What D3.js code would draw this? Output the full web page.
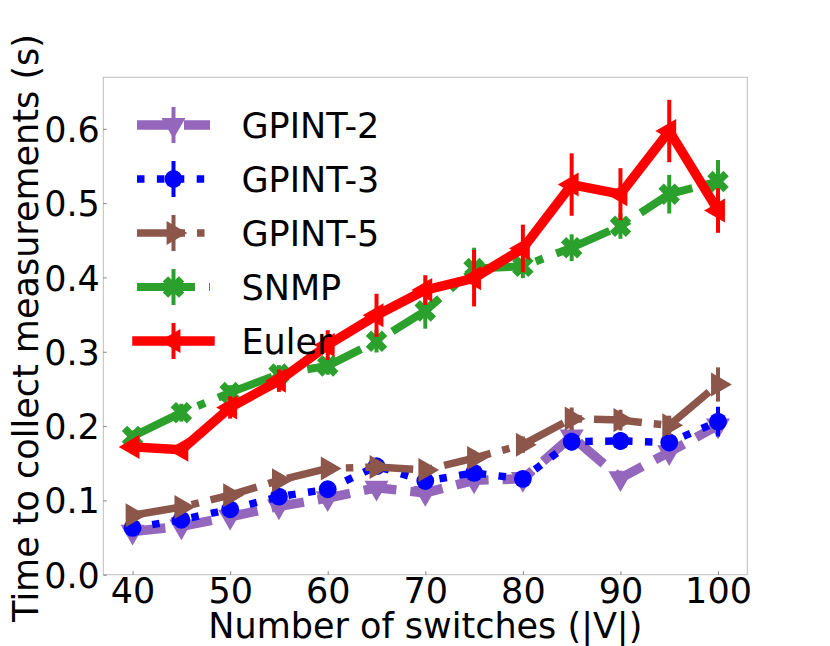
<!DOCTYPE html>
<html>
<head>
<meta charset="utf-8">
<script src="https://cdn.jsdelivr.net/npm/d3@7/dist/d3.min.js"></script>
<style>
  body { margin: 0; background: #fff; }
  text { font-family: "DejaVu Sans", sans-serif; fill: #000; }
</style>
</head>
<body>
<script>
// number of switches on the x axis
var switches = [40, 45, 50, 55, 60, 65, 70, 75, 80, 85, 90, 95, 100];

// time to collect measurements (s), mean and error per method
var gpint2    = [0.058, 0.065, 0.078, 0.092, 0.103, 0.117, 0.110, 0.127, 0.129, 0.186, 0.130, 0.165, 0.201];
var gpint2Err = [0.006, 0.006, 0.007, 0.008, 0.008, 0.009, 0.008, 0.009, 0.008, 0.012, 0.010, 0.012, 0.014];
var gpint3    = [0.063, 0.074, 0.088, 0.105, 0.115, 0.146, 0.126, 0.137, 0.129, 0.179, 0.180, 0.178, 0.206];
var gpint3Err = [0.005, 0.006, 0.006, 0.008, 0.008, 0.009, 0.008, 0.009, 0.008, 0.012, 0.012, 0.012, 0.020];
var gpint5    = [0.080, 0.091, 0.107, 0.127, 0.143, 0.145, 0.141, 0.157, 0.175, 0.210, 0.208, 0.201, 0.256];
var gpint5Err = [0.007, 0.007, 0.008, 0.009, 0.009, 0.009, 0.009, 0.010, 0.011, 0.015, 0.014, 0.013, 0.023];
var snmp      = [0.186, 0.218, 0.245, 0.270, 0.281, 0.314, 0.355, 0.412, 0.415, 0.440, 0.469, 0.512, 0.529];
var snmpErr   = [0.008, 0.012, 0.010, 0.012, 0.012, 0.015, 0.024, 0.028, 0.016, 0.018, 0.017, 0.026, 0.029];
var euler     = [0.172, 0.168, 0.225, 0.261, 0.309, 0.349, 0.383, 0.399, 0.439, 0.525, 0.512, 0.597, 0.490];
var eulerErr  = [0.009, 0.009, 0.015, 0.015, 0.020, 0.029, 0.020, 0.038, 0.032, 0.042, 0.035, 0.042, 0.030];

var seriesNames = ["GPINT-2", "GPINT-3", "GPINT-5", "SNMP", "Euler"];

var xTicks = [40, 50, 60, 70, 80, 90, 100];
var yTicks = [0, 0.1, 0.2, 0.3, 0.4, 0.5, 0.6];

// styles for each series (matplotlib-ish)
var styles = [
  {color: "#9467bd", lw: 9.5, dash: "33,14",        marker: "v", cap: "butt"},
  {color: "#0000ff", lw: 7.5, dash: "7.5,12.4",     marker: "o", cap: "butt"},
  {color: "#8c564b", lw: 7.5, dash: "48,12,7.5,12", marker: ">", cap: "butt"},
  {color: "#2ca02c", lw: 8,   dash: "58,14,8,14",   marker: "X", cap: "butt"},
  {color: "#ff0000", lw: 9.5, dash: null,           marker: "<", cap: "square"}
];

var means = [gpint2, gpint3, gpint5, snmp, euler];
var errs = [gpint2Err, gpint3Err, gpint5Err, snmpErr, eulerErr];

var data = seriesNames.map(function(name, i) {
  return {
    name: name,
    style: styles[i],
    points: switches.map(function(x, j) { return {x: x, y: means[i][j], e: errs[i][j]}; })
  };
});

// set the dimensions and margins of the diagram
var margin = {top: 77.3, left: 103.3},
    width = 644,
    height = 497.4;

var svg = d3.select("body").append("svg")
    .attr("width", 830)
    .attr("height", 646),
  g = svg.append("g")
    .attr("transform", "translate(" + margin.left + "," + margin.top + ")");

var x = d3.scaleLinear().domain([37, 103]).range([0, width]);
var y = d3.scaleLinear().domain([0, 0.6693]).range([height, 0]);

// frame
g.append("rect")
  .attr("width", width)
  .attr("height", height)
  .attr("fill", "none")
  .attr("stroke", "#bdbdbd")
  .attr("stroke-width", 1);

// axes
var xAxis = g.append("g")
  .attr("transform", "translate(0," + height + ")")
  .call(d3.axisBottom(x).tickValues(xTicks).tickSizeInner(-3.5).tickSizeOuter(0).tickPadding(6));
var yAxis = g.append("g")
  .call(d3.axisLeft(y).tickValues(yTicks).tickFormat(d3.format(".1f")).tickSizeInner(-3.5).tickSizeOuter(0).tickPadding(6));

[xAxis, yAxis].forEach(function(ax) {
  ax.select(".domain").remove();
  ax.selectAll(".tick line").attr("stroke", "#666").attr("stroke-width", 0.8);
  ax.selectAll(".tick text")
    .style("font-family", "DejaVu Sans")
    .style("font-size", "35px")
    .attr("fill", "#000");
});
xAxis.selectAll(".tick text").attr("y", 0).attr("dy", 0)
  .attr("transform", "translate(0,28.5)");
yAxis.selectAll(".tick text").attr("x", -3.5).attr("dy", "0.36em");

// axis labels
svg.append("text")
  .attr("x", margin.left + width / 2)
  .attr("y", 637.5)
  .attr("text-anchor", "middle")
  .style("font-size", "35px")
  .text("Number of switches (|V|)");

svg.append("text")
  .attr("transform", "translate(37.5," + (margin.top + height / 2 + 2) + ") rotate(-90)")
  .attr("text-anchor", "middle")
  .style("font-size", "35px")
  .text("Time to collect measurements (s)");

// marker shapes
function markerPath(m) {
  if (m === "o") return d3.symbol().type(d3.symbolCircle).size(250)();
  if (m === "X") return d3.symbol().type(d3.symbolCross).size(290)();
  return d3.symbol().type(d3.symbolTriangle).size(250)();
}
function markerRotate(m) {
  if (m === "v") return 180;
  if (m === ">") return 90;
  if (m === "<") return -90;
  if (m === "X") return 45;
  return 0;
}

var line = d3.line()
  .x(function(d) { return x(d.x); })
  .y(function(d) { return y(d.y); });

// draw each series: error bars, line, markers
var series = g.selectAll(".series")
    .data(data)
  .enter().append("g")
    .attr("class", "series");

series.each(function(s) {
  var sg = d3.select(this);

  sg.selectAll(".err")
      .data(s.points)
    .enter().append("line")
      .attr("x1", function(d) { return x(d.x); })
      .attr("x2", function(d) { return x(d.x); })
      .attr("y1", function(d) { return y(d.y - d.e); })
      .attr("y2", function(d) { return y(d.y + d.e); })
      .attr("stroke", s.style.color)
      .attr("stroke-width", 4);

  sg.append("path")
    .datum(s.points)
    .attr("d", line)
    .attr("fill", "none")
    .attr("stroke", s.style.color)
    .attr("stroke-width", s.style.lw)
    .attr("stroke-linejoin", "round")
    .attr("stroke-linecap", s.style.cap)
    .attr("stroke-dasharray", s.style.dash);

  sg.selectAll(".mk")
      .data(s.points)
    .enter().append("path")
      .attr("d", markerPath(s.style.marker))
      .attr("transform", function(d) {
        return "translate(" + x(d.x) + "," + y(d.y) + ") rotate(" + markerRotate(s.style.marker) + ")";
      })
      .attr("fill", s.style.color);
});

// legend (no frame)
var legend = svg.append("g");
var legendItem = legend.selectAll(".item")
    .data(data)
  .enter().append("g")
    .attr("class", "item")
    .attr("transform", function(d, i) { return "translate(0," + (125 + i * 54) + ")"; });

legendItem.append("line")
  .attr("x1", 137).attr("x2", 210)
  .attr("stroke", function(d) { return d.style.color; })
  .attr("stroke-width", function(d) { return d.style.lw; })
  .attr("stroke-linecap", function(d) { return d.style.cap; })
  .attr("stroke-dasharray", function(d) { return d.style.dash; });

legendItem.append("line")
  .attr("x1", 173.5).attr("x2", 173.5)
  .attr("y1", -18).attr("y2", 18)
  .attr("stroke", function(d) { return d.style.color; })
  .attr("stroke-width", 4);

legendItem.append("path")
  .attr("d", function(d) { return markerPath(d.style.marker); })
  .attr("transform", function(d) { return "translate(173.5,0) rotate(" + markerRotate(d.style.marker) + ")"; })
  .attr("fill", function(d) { return d.style.color; });

legendItem.append("text")
  .attr("x", 241.5)
  .attr("dy", "0.36em")
  .style("font-size", "35px")
  .text(function(d) { return d.name; });
</script>
</body>
</html>
